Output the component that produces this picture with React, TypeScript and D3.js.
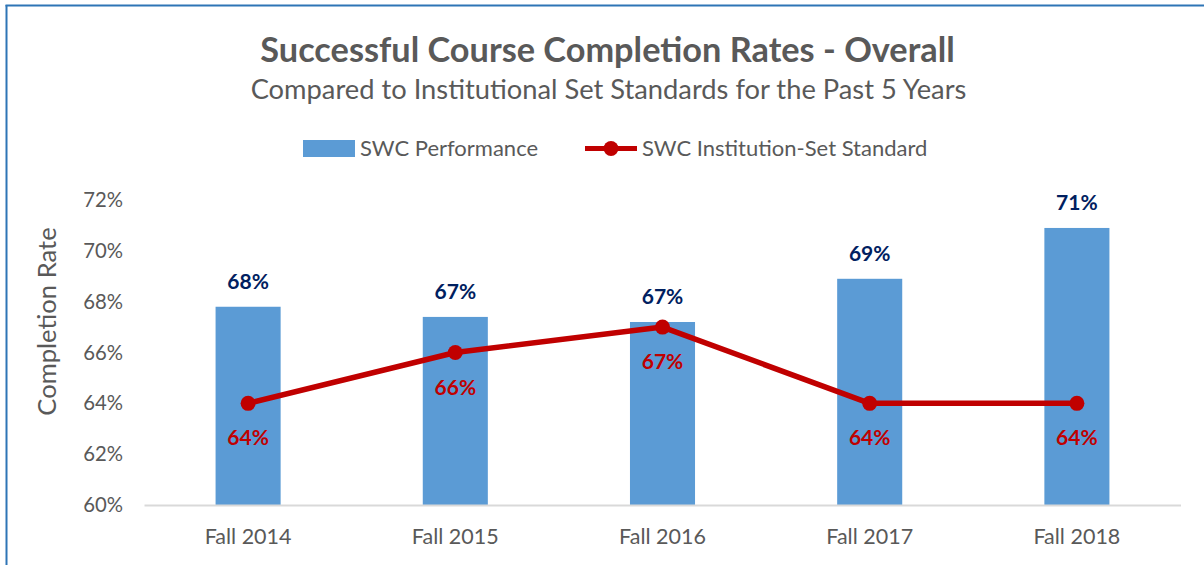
import React from "react";
import * as d3 from "d3";

const categories = ["Fall 2014", "Fall 2015", "Fall 2016", "Fall 2017", "Fall 2018"];
const performance = [67.8, 67.4, 67.2, 68.9, 70.9];
const standard = [64, 66, 67, 64, 64];
const yTicks = [60, 62, 64, 66, 68, 70, 72];

const W = 1204;
const H = 565;
const FONT = "Lato, 'Open Sans', sans-serif";

export default function App() {
  const x = d3.scaleBand<string>().domain(categories).range([144.5, 1180.5]).paddingInner(0.686).paddingOuter(0.343);
  const y = d3.scaleLinear().domain([60, 72]).range([505, 200]);
  const bw = x.bandwidth();
  const cx = (c: string) => (x(c) as number) + bw / 2;
  const line = d3
    .line<number>()
    .x((_, i) => cx(categories[i]))
    .y((d) => y(d));

  return (
    <svg
      width={W}
      height={H}
      style={{ position: "absolute", left: 0, top: 0, background: "#fff" }}
      fontFamily={FONT}
    >
      <rect x={0} y={0} width={W} height={H} fill="#fff" />
      <line x1={6.5} y1={5} x2={6.5} y2={H} stroke="#2e75b6" strokeWidth={2} />
      <line x1={5.5} y1={5.5} x2={W} y2={5.5} stroke="#2e75b6" strokeWidth={2} />

      <text x={607.5} y={61.5} textAnchor="middle" fontSize={34.3} fontWeight="bold" fill="#595959">
        Successful Course Completion Rates - Overall
      </text>
      <text x={608.5} y={99} textAnchor="middle" fontSize={27.3} fill="#595959">
        Compared to Institutional Set Standards for the Past 5 Years
      </text>

      {/* legend */}
      <rect x={303} y={140} width={52} height={17} fill="#5b9bd5" />
      <text x={360} y={156} fontSize={22} fill="#595959">SWC Performance</text>
      <line x1={585} y1={148.5} x2={637} y2={148.5} stroke="#c00000" strokeWidth={5} />
      <circle cx={611} cy={148.5} r={7.5} fill="#c00000" />
      <text x={642} y={156} fontSize={22} fill="#595959">SWC Institution-Set Standard</text>

      {/* y axis */}
      {yTicks.map((t) => (
        <text key={t} x={123} y={y(t) + 7} textAnchor="end" fontSize={20.3} fill="#595959">
          {t}%
        </text>
      ))}
      <text
        transform={`translate(56,321.5) rotate(-90)`}
        textAnchor="middle"
        fontSize={25.6}
        fill="#595959"
      >
        Completion Rate
      </text>

      {/* bars */}
      {categories.map((c, i) => (
        <rect key={c} x={x(c)} y={y(performance[i])} width={bw} height={505 - y(performance[i])} fill="#5b9bd5" />
      ))}

      {/* x axis */}
      <line x1={144.5} y1={505.5} x2={1181} y2={505.5} stroke="#d9d9d9" strokeWidth={2} />
      {categories.map((c) => (
        <text key={c} x={cx(c)} y={544} textAnchor="middle" fontSize={21.5} fill="#595959">
          {c}
        </text>
      ))}

      {/* bar labels */}
      {categories.map((c, i) => (
        <text key={c} x={cx(c)} y={y(performance[i]) - 18} textAnchor="middle" fontSize={21} fontWeight="bold" fill="#002060">
          {Math.round(performance[i])}%
        </text>
      ))}

      {/* line */}
      <path d={line(standard) as string} fill="none" stroke="#c00000" strokeWidth={5.5} strokeLinejoin="round" />
      {standard.map((v, i) => (
        <circle key={i} cx={cx(categories[i])} cy={y(v)} r={7.5} fill="#c00000" />
      ))}
      {standard.map((v, i) => (
        <text key={i} x={cx(categories[i])} y={y(v) + 42} textAnchor="middle" fontSize={21} fontWeight="bold" fill="#c00000">
          {v}%
        </text>
      ))}
    </svg>
  );
}
